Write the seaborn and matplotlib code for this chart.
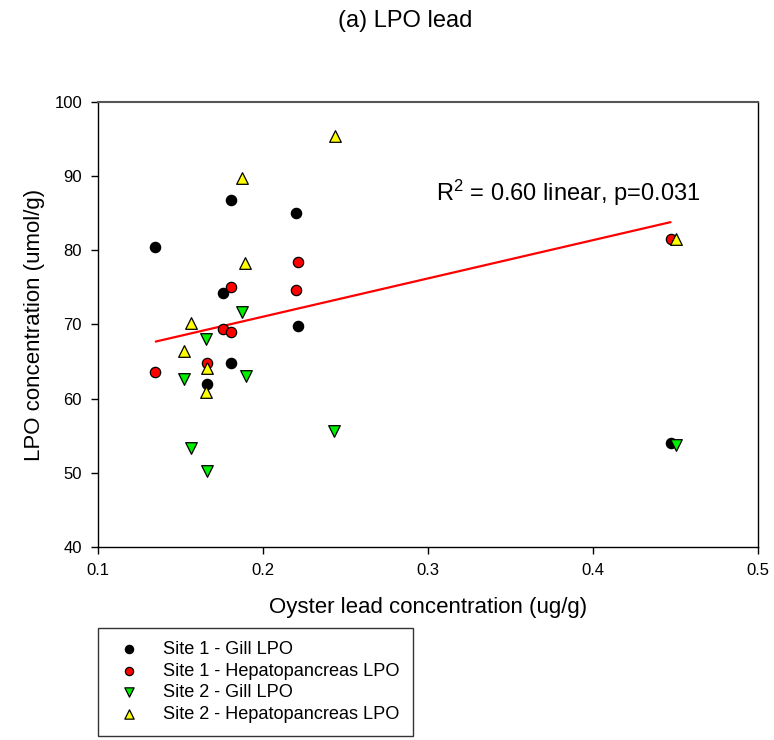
import matplotlib
matplotlib.use("Agg")
import matplotlib.pyplot as plt
import seaborn as sns
import numpy as np

# ---- data ----
s1_gill_x = [0.1345, 0.1804, 0.1760, 0.1804, 0.1659, 0.2198, 0.2214, 0.4471]
s1_gill_y = [80.4, 86.8, 74.3, 64.8, 61.95, 85.1, 69.85, 54.0]

s1_hep_x = [0.1345, 0.1804, 0.1760, 0.1804, 0.1659, 0.2214, 0.2198, 0.4471]
s1_hep_y = [63.57, 75.1, 69.4, 69.05, 64.8, 78.44, 74.66, 81.5]

s2_gill_x = [0.1873, 0.1653, 0.1521, 0.1895, 0.1562, 0.1662, 0.2430, 0.4503]
s2_gill_y = [71.65, 68.0, 62.67, 63.07, 53.37, 50.18, 55.66, 53.8]

s2_hep_x = [0.1873, 0.2436, 0.1893, 0.1562, 0.1521, 0.1662, 0.1653, 0.4503]
s2_hep_y = [89.8, 95.4, 78.26, 70.26, 66.44, 64.2, 60.96, 81.5]

fit_x = [0.135, 0.447]
fit_y = [67.7, 83.8]

series_labels = ["Site 1 - Gill LPO", "Site 1 - Hepatopancreas LPO",
                 "Site 2 - Gill LPO", "Site 2 - Hepatopancreas LPO"]
x_ticks = [0.1, 0.2, 0.3, 0.4, 0.5]
y_ticks = [40, 50, 60, 70, 80, 90, 100]
x_ticklabels = ["0.1", "0.2", "0.3", "0.4", "0.5"]
y_ticklabels = ["40", "50", "60", "70", "80", "90", "100"]

title_text = "(a) LPO lead"
annot_text = r"R$^\mathregular{2}$ = 0.60 linear, p=0.031"
xlabel = "Oyster lead concentration (ug/g)"
ylabel = "LPO concentration (umol/g)"

# ---- style ----
sns.set_style("ticks")
plt.rcParams["font.family"] = ["Liberation Sans", "DejaVu Sans"]
plt.rcParams["mathtext.fontset"] = "custom"
plt.rcParams["mathtext.rm"] = "Liberation Sans"
plt.rcParams["mathtext.it"] = "Liberation Sans:italic"
plt.rcParams["text.color"] = "black"
plt.rcParams["axes.labelcolor"] = "black"

fig = plt.figure(figsize=(7.74, 7.40), dpi=100)
ax = fig.add_axes([98 / 774, 1 - 547 / 740, 660 / 774, 445 / 740])

sns.lineplot(x=fit_x, y=fit_y, ax=ax, color="#ff0000", linewidth=1.6, zorder=2)

styles = [
    (s1_gill_x, s1_gill_y, "o", "#000000", 55),
    (s1_hep_x, s1_hep_y, "o", "#ff0000", 55),
    (s2_gill_x, s2_gill_y, "v", "#00ee00", 70),
    (s2_hep_x, s2_hep_y, "^", "#ffff00", 70),
]
for (xs, ys, m, c, s), lab in zip(styles, series_labels):
    sns.scatterplot(x=xs, y=ys, ax=ax, marker=m, color=c, s=s,
                    edgecolor="black", linewidth=0.9, label=lab, zorder=3)

ax.set_xlim(0.1, 0.5)
ax.set_ylim(40, 100)
ax.set_xticks(x_ticks)
ax.set_xticklabels(x_ticklabels)
ax.set_yticks(y_ticks)
ax.set_yticklabels(y_ticklabels)
ax.tick_params(direction="out", length=5, width=1.0, labelsize=12,
               colors="black", labelcolor="black", pad=6.5)

for side in ["left", "bottom", "right"]:
    ax.spines[side].set_visible(True)
    ax.spines[side].set_color("black")
    ax.spines[side].set_linewidth(1.0)
ax.spines["top"].set_visible(True)
ax.spines["top"].set_color("#555555")
ax.spines["top"].set_linewidth(1.5)

ax.set_xlabel(xlabel, fontsize=16, labelpad=14)
ax.set_ylabel(ylabel, fontsize=16, labelpad=7)

ax.text(0.712, 0.796, annot_text, transform=ax.transAxes, fontsize=17,
        ha="center", va="center")

fig.text(405 / 774, 1 - 21 / 740, title_text, fontsize=17, ha="center", va="center")

handles, labels = ax.get_legend_handles_labels()
if ax.legend_ is not None:
    ax.legend_.remove()
leg = fig.legend(handles, labels, loc="upper left",
                 bbox_to_anchor=(98 / 774, 1 - 628 / 740),
                 fontsize=13.1, markerscale=0.8, frameon=True, fancybox=False,
                 edgecolor="black", borderpad=0.72, labelspacing=0.25,
                 handletextpad=0.85, borderaxespad=0)
leg.get_frame().set_linewidth(1.0)

fig.savefig("out.png", dpi=100)
